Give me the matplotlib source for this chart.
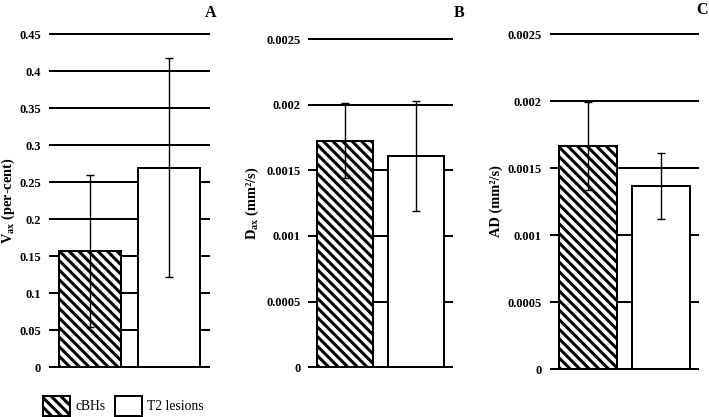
import matplotlib
matplotlib.use("Agg")
import matplotlib.pyplot as plt
from matplotlib.patches import Patch

plt.rcParams['font.family'] = ['Liberation Serif', 'DejaVu Serif']
plt.rcParams['mathtext.fontset'] = 'custom'
plt.rcParams['mathtext.rm'] = 'Liberation Serif'
plt.rcParams['mathtext.bf'] = 'Liberation Serif:bold'
plt.rcParams['hatch.linewidth'] = 1.9

# ---- data ----
groups = ['cBHs', 'T2 lesions']

vax_mean = [0.157, 0.269]
vax_err_low = [0.103, 0.148]
vax_err_high = [0.103, 0.148]
vax_ticks = [0, 0.05, 0.1, 0.15, 0.2, 0.25, 0.3, 0.35, 0.4, 0.45]
vax_tick_labels = ['0', '0.05', '0.1', '0.15', '0.2', '0.25', '0.3', '0.35', '0.4', '0.45']

dax_mean = [0.00172, 0.00161]
dax_err_low = [0.00028, 0.00042]
dax_err_high = [0.00029, 0.00042]
dax_ticks = [0, 0.0005, 0.001, 0.0015, 0.002, 0.0025]
dax_tick_labels = ['0', '0.0005', '0.001', '0.0015', '0.002', '0.0025']

ad_mean = [0.001665, 0.001366]
ad_err_low = [0.00033, 0.000247]
ad_err_high = [0.00033, 0.000247]
ad_ticks = [0, 0.0005, 0.001, 0.0015, 0.002, 0.0025]
ad_tick_labels = ['0', '0.0005', '0.001', '0.0015', '0.002', '0.0025']

panel_letters = ['A', 'B', 'C']
ylabels = [r'V$_{\mathbf{ax}}$ (per-cent)', r'D$_{\mathbf{ax}}$ (mm²/s)', 'AD (mm²/s)']

# ---- figure ----
W, H = 709, 417
DPI = 115
fig = plt.figure(figsize=((W + 0.01) / DPI, (H + 0.01) / DPI), dpi=DPI)

def fx(px):
    return px / W

def fy(py):
    return 1 - py / H

# axes positions in pixels: (left, right, y_of_zero, y_of_top)
pos = [(50, 209, 367, 34), (309.3, 451.7, 367.3, 39), (550.7, 698.3, 369, 34.3)]
data = [(vax_mean, vax_err_low, vax_err_high, vax_ticks, vax_tick_labels),
        (dax_mean, dax_err_low, dax_err_high, dax_ticks, dax_tick_labels),
        (ad_mean, ad_err_low, ad_err_high, ad_ticks, ad_tick_labels)]

hatches = ['\\\\\\\\', '']
faces = ['white', 'white']
x = [0, 1]
bw = 0.79
lw_px = 1.0 * 72 / DPI  # points per pixel

for (l, r, y0, yt), (m, lo, hi, ticks, tlabels) in zip(pos, data):
    ax = fig.add_axes([fx(l), fy(y0), fx(r - l), (y0 - yt) / H])
    for t in ticks:
        ax.axhline(t, color='black', lw=2.0 * lw_px, zorder=0.5, clip_on=False)
    for i in range(2):
        ax.bar(x[i], m[i], width=bw, facecolor=faces[i], edgecolor='black',
               hatch=hatches[i], linewidth=2.0 * lw_px, zorder=2)
    ax.errorbar(x, m, yerr=[lo, hi], fmt='none', ecolor='black',
                elinewidth=1.4 * lw_px, capsize=2.5, capthick=1.4 * lw_px, zorder=3)
    ax.set_xlim(-0.51, 1.51)
    ax.set_ylim(0, ticks[-1])
    ax.set_yticks(ticks)
    ax.set_yticklabels(tlabels, fontsize=7.8, fontweight='bold')
    ax.tick_params(axis='y', length=0, pad=5.5)
    ax.set_xticks([])
    for s in ax.spines.values():
        s.set_visible(False)
    ax.patch.set_visible(False)

# y labels (centred on each axes)
ylab_pos = [(8, 201), (252, 203), (496, 201)]
for (px, py), lab in zip(ylab_pos, ylabels):
    fig.text(fx(px), fy(py), lab, rotation=90, ha='center', va='center',
             fontsize=9.0, fontweight='bold')

# panel letters
letter_pos = [(211, 13), (459, 13), (702, 10)]
for (px, py), let in zip(letter_pos, panel_letters):
    fig.text(fx(px), fy(py), let, ha='center', va='center', fontsize=10, fontweight='bold')

# legend
handles = [Patch(facecolor='white', edgecolor='black', hatch=hatches[0], linewidth=2.0 * lw_px),
           Patch(facecolor='white', edgecolor='black', linewidth=2.0 * lw_px)]
fig.legend(handles, groups, loc='lower left', bbox_to_anchor=(fx(43.3), fy(416)),
           ncol=2, frameon=False, fontsize=8.5, handlelength=2.0, handleheight=1.9,
           handletextpad=0.35, columnspacing=0.7, borderpad=0, borderaxespad=0)

fig.savefig('out.png', dpi=DPI)
